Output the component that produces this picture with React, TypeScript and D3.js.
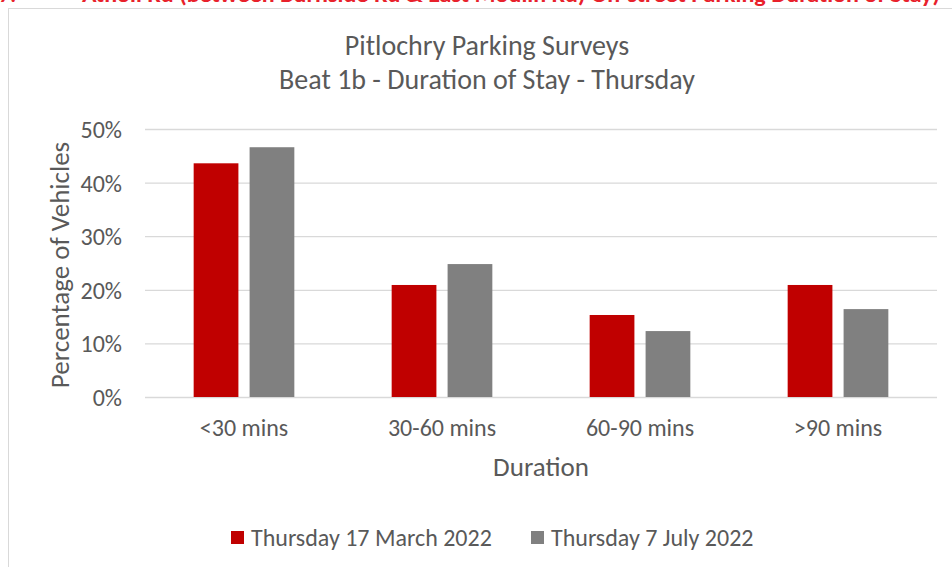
import { useEffect, useRef } from 'react';
import * as d3 from 'd3';

const categories = ['<30 mins', '30-60 mins', '60-90 mins', '>90 mins'];
const seriesNames = ['Thursday 17 March 2022', 'Thursday 7 July 2022'];
const march = [43.6, 20.9, 15.3, 20.9];
const july = [46.6, 24.8, 12.3, 16.4];
const yTicks = [0, 10, 20, 30, 40, 50];

const colors = ['#C00000', '#808080'];
const textColor = '#595959';
const font = 'Carlito, Calibri, Lato, "Liberation Sans", sans-serif';

const App = () => {
    const svgRef = useRef<SVGSVGElement>(null);
    const width = 952;
    const height = 567;
    const plot = { left: 145, right: 937, top: 129, bottom: 397 };

    useEffect(() => {
        const svg = d3.select(svgRef.current);
        svg.selectAll('*').remove();

        // heading from the report page, cut off at the top
        svg.append('text').attr('x', -1).attr('y', 2)
            .attr('font-family', font).attr('font-weight', 'bold').attr('font-size', 22)
            .attr('fill', '#E8212B').text('7.');
        svg.append('text').attr('x', 82).attr('y', 2)
            .attr('font-family', font).attr('font-weight', 'bold').attr('font-size', 22)
            .attr('fill', '#E8212B')
            .attr('textLength', 858).attr('lengthAdjust', 'spacingAndGlyphs')
            .text('Atholl Rd (between Burnside Rd & East Moulin Rd) On-street Parking Duration of Stay)');

        // chart frame
        svg.append('rect').attr('x', 8.5).attr('y', 8.5).attr('width', 1000).attr('height', 600)
            .attr('fill', 'white').attr('stroke', '#D9D9D9');

        const x0 = d3.scaleBand().domain(categories).range([plot.left, plot.right]);
        const x1 = d3.scaleBand().domain(seriesNames).range([0, x0.bandwidth()])
            .paddingInner(0.2).paddingOuter(0.87);
        const y = d3.scaleLinear().domain([0, 50]).range([plot.bottom, plot.top]);

        // gridlines + y axis labels
        const yAxis = svg.append('g').attr('transform', `translate(${plot.left},0)`)
            .call(d3.axisLeft(y).tickValues(yTicks).tickFormat(d => `${d}%`)
                .tickSize(-(plot.right - plot.left)).tickPadding(23));
        yAxis.select('.domain').remove();
        yAxis.selectAll('line').attr('stroke', '#D9D9D9').attr('stroke-width', 1.3);
        yAxis.selectAll('text').attr('fill', textColor).attr('font-size', 24)
            .attr('font-family', font).attr('dy', '0.35em');

        // bars
        const rows = categories.map((c, i) => ({ cat: c, vals: [march[i], july[i]] }));
        const groups = svg.append('g').selectAll('g').data(rows).join('g')
            .attr('transform', d => `translate(${x0(d.cat)},0)`);
        groups.selectAll('rect')
            .data(d => d.vals.map((v, j) => ({ name: seriesNames[j], v, j })))
            .join('rect')
            .attr('x', d => x1(d.name)!)
            .attr('y', d => y(d.v))
            .attr('width', x1.bandwidth())
            .attr('height', d => y(0) - y(d.v))
            .attr('fill', d => colors[d.j]);

        // x axis labels
        const xAxis = svg.append('g').attr('transform', `translate(0,${plot.bottom})`)
            .call(d3.axisBottom(x0).tickSize(0).tickPadding(22));
        xAxis.select('.domain').remove();
        xAxis.selectAll('text').attr('fill', textColor).attr('font-size', 24).attr('font-family', font);

        // titles
        const title = svg.append('text').attr('x', 487).attr('text-anchor', 'middle')
            .attr('font-family', font).attr('font-size', 28).attr('fill', textColor);
        title.append('tspan').attr('x', 487).attr('y', 55).text('Pitlochry Parking Surveys');
        title.append('tspan').attr('x', 487).attr('y', 89).text('Beat 1b - Duration of Stay - Thursday');

        svg.append('text').attr('x', 541).attr('y', 476).attr('text-anchor', 'middle')
            .attr('font-family', font).attr('font-size', 27).attr('fill', textColor).text('Duration');

        svg.append('text').attr('transform', `translate(69,265) rotate(-90)`).attr('text-anchor', 'middle')
            .attr('font-family', font).attr('font-size', 27).attr('fill', textColor)
            .text('Percentage of Vehicles');

        // legend
        const legendX = [231, 531];
        const legend = svg.append('g').selectAll('g').data(seriesNames).join('g')
            .attr('transform', (d, i) => `translate(${legendX[i]},531)`);
        legend.append('rect').attr('width', 13).attr('height', 13).attr('fill', (d, i) => colors[i]);
        legend.append('text').attr('x', 20).attr('y', 15)
            .attr('font-family', font).attr('font-size', 24).attr('fill', textColor)
            .text(d => d);
    }, []);

    return (
        <svg ref={svgRef} width={width} height={height}
            style={{ position: 'absolute', left: 0, top: 0, background: 'white' }} />
    );
};

export default App;
